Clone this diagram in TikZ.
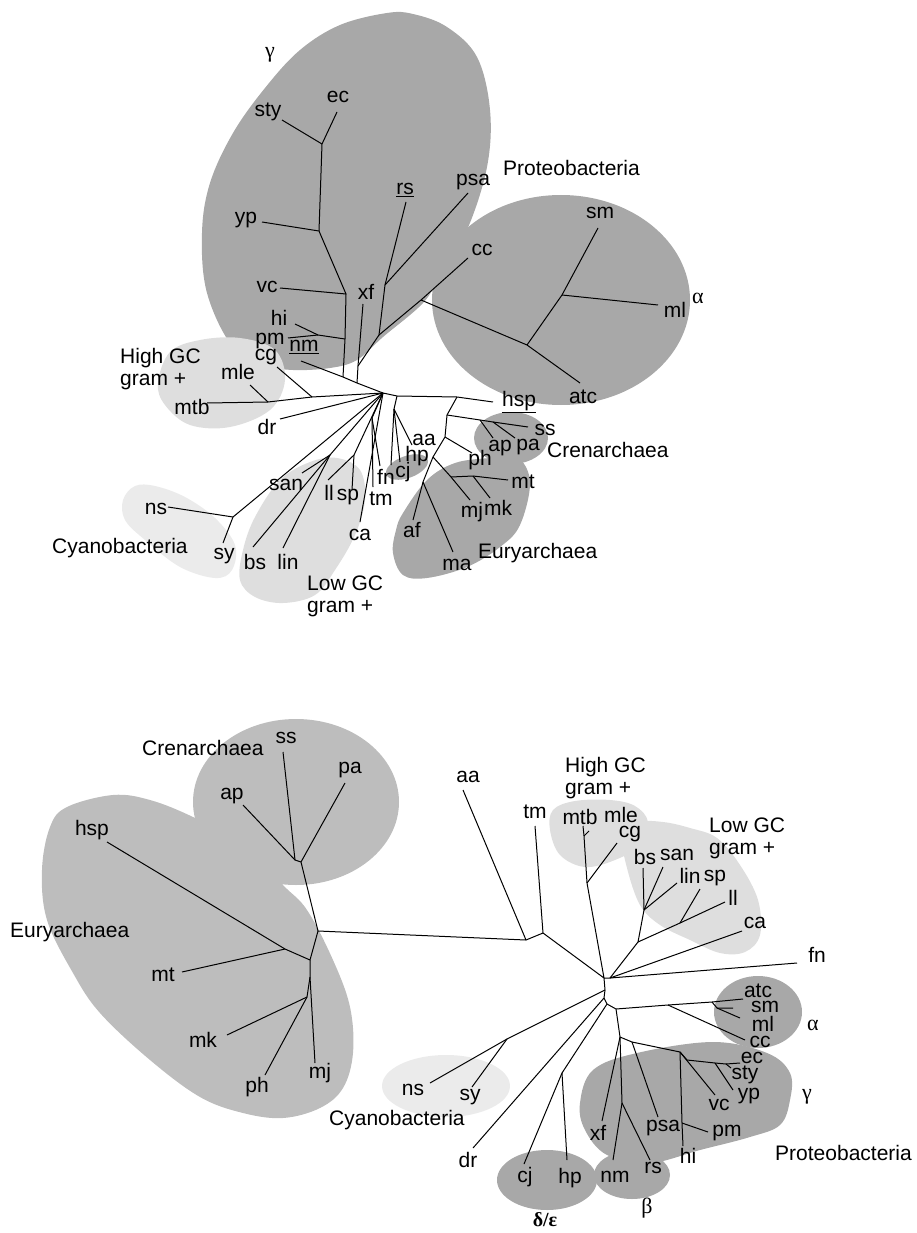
\documentclass[tikz,border=0pt]{standalone}
\usepackage{fontspec}
\setmainfont{Liberation Sans}
\newfontfamily\greekfont{Liberation Serif}
\definecolor{protgray}{gray}{0.66}
\definecolor{archgray}{gray}{0.74}
\definecolor{gramgray}{gray}{0.87}
\definecolor{cyangray}{gray}{0.92}

\begin{document}
\begin{tikzpicture}[x=1pt,y=-1pt]
      \tikzset{
        branch/.style={line width=1pt, line join=round},
        taxon/.style={inner sep=0pt, font=\fontsize{21}{22}\selectfont},
        clade/.style={taxon, anchor=west, align=left},
        greek/.style={inner sep=0pt, font=\greekfont\fontsize{22}{24}\selectfont},
      }
      \useasboundingbox (0,0) rectangle (917,1233);

      % upper tree: groups
      \fill[protgray] plot[smooth cycle, tension=0.6] coordinates {(387,13) (413,14) (447,27) (477,57) (490,110) (487,167) (467,230) (440,275) (423,303) (383,337) (357,360) (330,368) (293,370) (267,365) (233,347) (207,293) (202,233) (210,183) (233,133) (265,88) (300,50) (340,25)};
      \fill[protgray] (561,300) ellipse [x radius=129, y radius=105];
      \fill[gramgray] plot[smooth cycle, tension=0.6] coordinates {(158,383) (170,352) (200,340) (240,338) (275,350) (285,380) (270,410) (230,427) (190,425) (165,405)};
      \fill[cyangray] plot[smooth cycle, tension=0.6] coordinates {(123,500) (135,486) (155,486) (185,497) (215,518) (235,545) (232,570) (215,578) (180,567) (145,540) (125,520)};
      \fill[gramgray] plot[smooth cycle, tension=0.6] coordinates {(240,580) (243,550) (255,517) (280,480) (310,462) (337,458) (360,470) (365,500) (355,535) (335,570) (315,595) (283,603) (255,597)};
      \fill[protgray] (511,438) ellipse [x radius=37, y radius=26];
      \fill[protgray] plot[smooth cycle, tension=0.6] coordinates {(393,553) (396,530) (403,513) (427,480) (455,463) (490,458) (517,457) (530,482) (520,525) (500,547) (467,567) (427,578) (403,575)};
      \fill[protgray] (407,467) circle [x radius=22, y radius=11, rotate=20];

      % upper tree: branch points
      \coordinate (u0) at (383,393);
      \coordinate (u1) at (357,383);
      \coordinate (u2) at (343,377);
      \coordinate (u3) at (345,339);
      \coordinate (u4) at (346,294);
      \coordinate (u5) at (319,231);
      \coordinate (u6) at (322,144);
      \coordinate (u7) at (318,335);
      \coordinate (u8) at (358,366);
      \coordinate (u9) at (379,335);
      \coordinate (u10) at (385,285);
      \coordinate (u11) at (421,300);
      \coordinate (u12) at (527,345);
      \coordinate (u13) at (562,295);
      \coordinate (u14) at (397,396);
      \coordinate (u15) at (457,397);
      \coordinate (u16) at (394,409);
      \coordinate (u17) at (447,415);
      \coordinate (u18) at (480,420);
      \coordinate (u19) at (493,422);
      \coordinate (u20) at (445,437);
      \coordinate (u21) at (433,457);
      \coordinate (u22) at (423,482);
      \coordinate (u23) at (451,477);
      \coordinate (u24) at (473,476);
      \coordinate (u25) at (312,397);
      \coordinate (u26) at (268,402);
      \coordinate (u27) at (233,517);
      \coordinate (u28) at (330,455);
      \coordinate (u29) at (354,455);
      \coordinate (u30) at (372,418);

      % upper tree: taxa
      \coordinate (ec1) at (337,112);   \node[taxon] (ec1t) at (338,97) {ec};
      \coordinate (sty1) at (282,120);  \node[taxon] (sty1t) at (268,112) {sty};
      \coordinate (yp1) at (262,222);   \node[taxon] (yp1t) at (246,220) {yp};
      \coordinate (vc1) at (280,288);   \node[taxon] (vc1t) at (267,287) {vc};
      \coordinate (hi1) at (295,324);   \node[taxon] (hi1t) at (279,318) {hi};
      \coordinate (pm1) at (288,338);   \node[taxon] (pm1t) at (270,341) {pm};
      \coordinate (nm1) at (301,361);   \node[taxon] (nm1t) at (304,347) {\underline{nm}};
      \coordinate (xf1) at (363,304);   \node[taxon] (xf1t) at (366,292) {xf};
      \coordinate (rs1) at (406,202);   \node[taxon] (rs1t) at (405,190) {\underline{rs}};
      \coordinate (psa1) at (468,193);  \node[taxon] (psa1t) at (473,182) {psa};
      \coordinate (cc1) at (468,258);   \node[taxon] (cc1t) at (482,250) {cc};
      \coordinate (atc1) at (580,383);  \node[taxon] (atc1t) at (583,397) {atc};
      \coordinate (sm1) at (598,228);   \node[taxon] (sm1t) at (600,213) {sm};
      \coordinate (ml1) at (658,305);   \node[taxon] (ml1t) at (675,310) {ml};
      \coordinate (hsp1) at (493,402);  \node[taxon] (hsp1t) at (519,402) {\underline{hsp}};
      \coordinate (aa1) at (412,445);   \node[taxon] (aa1t) at (424,440) {aa};
      \coordinate (cj1) at (391,465);   \node[taxon] (cj1t) at (403,472) {cj};
      \coordinate (hp1) at (400,462);   \node[taxon] (hp1t) at (417,456) {hp};
      \coordinate (ss1) at (528,427);   \node[taxon] (ss1t) at (545,430) {ss};
      \coordinate (ap1) at (493,438);   \node[taxon] (ap1t) at (500,448) {ap};
      \coordinate (pa1) at (515,438);   \node[taxon] (pa1t) at (528,447) {pa};
      \coordinate (ph1) at (472,453);   \node[taxon] (ph1t) at (480,460) {ph};
      \coordinate (af1) at (413,520);   \node[taxon] (af1t) at (412,530) {af};
      \coordinate (ma1) at (453,552);   \node[taxon] (ma1t) at (457,565) {ma};
      \coordinate (mj1) at (470,500);   \node[taxon] (mj1t) at (472,512) {mj};
      \coordinate (mt1) at (508,480);   \node[taxon] (mt1t) at (523,482) {mt};
      \coordinate (mk1) at (490,498);   \node[taxon] (mk1t) at (498,508) {mk};
      \coordinate (mtb1) at (207,403);  \node[taxon] (mtb1t) at (192,407) {mtb};
      \coordinate (cg1) at (277,367);   \node[taxon] (cg1t) at (266,357) {cg};
      \coordinate (mle1) at (250,385);  \node[taxon] (mle1t) at (238,372) {mle};
      \coordinate (dr1) at (280,419);   \node[taxon] (dr1t) at (267,427) {dr};
      \coordinate (ns1) at (168,507);   \node[taxon] (ns1t) at (156,509) {ns};
      \coordinate (sy1) at (223,543);   \node[taxon] (sy1t) at (224,556) {sy};
      \coordinate (san1) at (302,473);  \node[taxon] (san1t) at (286,485) {san};
      \coordinate (bs1) at (253,547);   \node[taxon] (bs1t) at (255,562) {bs};
      \coordinate (lin1) at (283,548);  \node[taxon] (lin1t) at (288,562) {lin};
      \coordinate (ll1) at (328,480);   \node[taxon] (ll1t) at (329,493) {ll};
      \coordinate (sp1) at (352,490);   \node[taxon] (sp1t) at (348,497) {sp};
      \coordinate (ca1) at (360,522);   \node[taxon] (ca1t) at (360,535) {ca};
      \coordinate (tm1) at (373,487);   \node[taxon] (tm1t) at (381,499) {tm};
      \coordinate (fn1) at (380,466);   \node[taxon] (fn1t) at (386,477) {fn};

      \draw[branch] (nm1) -- (u2) -- (u1) -- (u0);
      \draw[branch] (u2) -- (u3) -- (u4) -- (u5) -- (u6) -- (ec1);
      \draw[branch] (u6) -- (sty1);
      \draw[branch] (u5) -- (yp1);
      \draw[branch] (u4) -- (vc1);
      \draw[branch] (u3) -- (u7) -- (hi1);
      \draw[branch] (u7) -- (pm1);
      \draw[branch] (u1) -- (u8) -- (xf1);
      \draw[branch] (u8) -- (u9) -- (u10) -- (rs1);
      \draw[branch] (u10) -- (psa1);
      \draw[branch] (u9) -- (u11) -- (cc1);
      \draw[branch] (u11) -- (u12) -- (atc1);
      \draw[branch] (u12) -- (u13) -- (sm1);
      \draw[branch] (u13) -- (ml1);
      \draw[branch] (u0) -- (u14) -- (u15) -- (hsp1);
      \draw[branch] (u14) -- (u16) -- (aa1);
      \draw[branch] (u16) -- (cj1);
      \draw[branch] (u16) -- (hp1);
      \draw[branch] (u15) -- (u17) -- (u20) -- (u21) -- (u22) -- (af1);
      \draw[branch] (u22) -- (ma1);
      \draw[branch] (u17) -- (u18) -- (u19) -- (ss1);
      \draw[branch] (u18) -- (ap1);
      \draw[branch] (u19) -- (pa1);
      \draw[branch] (u20) -- (ph1);
      \draw[branch] (u21) -- (u23) -- (mj1);
      \draw[branch] (u23) -- (u24) -- (mt1);
      \draw[branch] (u24) -- (mk1);
      \draw[branch] (u0) -- (u25) -- (u26) -- (mtb1);
      \draw[branch] (u25) -- (cg1);
      \draw[branch] (u26) -- (mle1);
      \draw[branch] (u0) -- (dr1);
      \draw[branch] (u0) -- (u27) -- (ns1);
      \draw[branch] (u27) -- (sy1);
      \draw[branch] (u0) -- (u28) -- (san1);
      \draw[branch] (u28) -- (bs1);
      \draw[branch] (u28) -- (lin1);
      \draw[branch] (u0) -- (u29) -- (ll1);
      \draw[branch] (u29) -- (sp1);
      \draw[branch] (u0) -- (ca1);
      \draw[branch] (u0) -- (u30) -- (tm1);
      \draw[branch] (u30) -- (fn1);

      \node[greek] (gamma1) at (270,55) {γ};
      \node[greek] (alpha1) at (698,298) {α};
      \node[clade] (proteo1) at (503,168) {Proteobacteria};
      \node[clade] (cren1) at (547,450) {Crenarchaea};
      \node[clade] (eury1) at (478,553) {Euryarchaea};
      \node[clade] (highgc1) at (120,369) {High GC\\gram +};
      \node[clade] (cyano1) at (52,548) {Cyanobacteria};
      \node[clade] (lowgc1) at (307,596) {Low GC\\gram +};

      % lower tree: groups
      \fill[archgray] plot[smooth cycle, tension=0.6] coordinates {(67,807) (113,795) (150,800) (193,817) (245,845) (283,885) (307,910) (333,960) (350,1007) (353,1053) (343,1088) (320,1108) (283,1118) (243,1113) (200,1097) (150,1060) (100,1013) (73,973) (47,920) (42,870) (50,827)};
      \fill[archgray] (296,802) ellipse [x radius=103, y radius=83];
      \fill[cyangray] (446,1086) ellipse [x radius=64, y radius=31];
      \fill[gramgray] plot[smooth cycle, tension=0.6] coordinates {(550,830) (553,810) (575,801) (610,800) (635,806) (648,822) (640,845) (615,860) (585,867) (560,855)};
      \fill[gramgray] plot[smooth cycle, tension=0.6] coordinates {(627,868) (624,842) (640,823) (663,822) (690,828) (717,838) (740,865) (758,900) (760,935) (745,952) (720,953) (690,940) (660,925) (640,905)};
      \fill[protgray] plot[smooth cycle, tension=0.6] coordinates {(580,1103) (593,1070) (637,1053) (713,1042) (767,1053) (790,1073) (790,1100) (780,1125) (750,1137) (700,1150) (650,1163) (607,1155) (585,1130)};
      \fill[protgray] (758,1012) ellipse [x radius=44, y radius=36];
      \fill[protgray] (632,1175) ellipse [x radius=38, y radius=24];
      \fill[protgray] (547,1180) ellipse [x radius=50, y radius=30];

      % lower tree: branch points
      \coordinate (l0) at (318,931);
      \coordinate (l1) at (301,862);
      \coordinate (l2) at (295,860);
      \coordinate (l3) at (310,960);
      \coordinate (l4) at (285,949);
      \coordinate (l5) at (310,977);
      \coordinate (l6) at (307,997);
      \coordinate (l7) at (526,940);
      \coordinate (l8) at (543,933);
      \coordinate (l9) at (604,978);
      \coordinate (l10) at (587,883);
      \coordinate (l11) at (584,836);
      \coordinate (l12) at (610,978);
      \coordinate (l13) at (638,942);
      \coordinate (l14) at (644,910);
      \coordinate (l15) at (680,923);
      \coordinate (l16) at (605,990);
      \coordinate (l17) at (507,1039);
      \coordinate (l18) at (604,998);
      \coordinate (l19) at (607,1004);
      \coordinate (l20) at (562,1073);
      \coordinate (l21) at (616,1009);
      \coordinate (l22) at (668,1005);
      \coordinate (l23) at (712,1002);
      \coordinate (l24) at (717,1008);
      \coordinate (l25) at (620,1037);
      \coordinate (l26) at (622,1103);
      \coordinate (l27) at (632,1042);
      \coordinate (l28) at (680,1052);
      \coordinate (l29) at (687,1060);
      \coordinate (l30) at (715,1063);
      \coordinate (l31) at (726,1064);
      \coordinate (l32) at (682,1123);

      % lower tree: taxa
      \coordinate (ss2) at (283,752);   \node[taxon] (ss2t) at (286,738) {ss};
      \coordinate (pa2) at (345,783);   \node[taxon] (pa2t) at (350,770) {pa};
      \coordinate (ap2) at (243,805);   \node[taxon] (ap2t) at (232,796) {ap};
      \coordinate (hsp2) at (107,842);  \node[taxon] (hsp2t) at (92,830) {hsp};
      \coordinate (mt2) at (182,972);   \node[taxon] (mt2t) at (163,975) {mt};
      \coordinate (mj2) at (315,1063);  \node[taxon] (mj2t) at (320,1073) {mj};
      \coordinate (mk2) at (227,1035);  \node[taxon] (mk2t) at (203,1040) {mk};
      \coordinate (ph2) at (265,1075);  \node[taxon] (ph2t) at (257,1087) {ph};
      \coordinate (aa2) at (463,790);   \node[taxon] (aa2t) at (468,777) {aa};
      \coordinate (tm2) at (535,826);   \node[taxon] (tm2t) at (535,812) {tm};
      \coordinate (mtb2) at (583,826);  \node[taxon] (mtb2t) at (580,817) {mtb};
      \coordinate (mle2) at (589,831);  \node[taxon] (mle2t) at (621,815) {mle};
      \coordinate (cg2) at (617,843);   \node[taxon] (cg2t) at (630,834) {cg};
      \coordinate (bs2) at (643,868);   \node[taxon] (bs2t) at (645,857) {bs};
      \coordinate (san2) at (663,867);  \node[taxon] (san2t) at (677,855) {san};
      \coordinate (lin2) at (677,883);  \node[taxon] (lin2t) at (690,876) {lin};
      \coordinate (sp2) at (700,889);   \node[taxon] (sp2t) at (715,878) {sp};
      \coordinate (ll2) at (725,902);   \node[taxon] (ll2t) at (733,898) {ll};
      \coordinate (ca2) at (742,931);   \node[taxon] (ca2t) at (755,923) {ca};
      \coordinate (fn2) at (797,963);   \node[taxon] (fn2t) at (817,955) {fn};
      \coordinate (ns2) at (430,1083);  \node[taxon] (ns2t) at (413,1090) {ns};
      \coordinate (sy2) at (472,1087);  \node[taxon] (sy2t) at (470,1097) {sy};
      \coordinate (dr2) at (473,1148);  \node[taxon] (dr2t) at (468,1160) {dr};
      \coordinate (cj2) at (524,1164);  \node[taxon] (cj2t) at (525,1177) {cj};
      \coordinate (hp2) at (567,1160);  \node[taxon] (hp2t) at (570,1178) {hp};
      \coordinate (atc2) at (743,999);  \node[taxon] (atc2t) at (758,991) {atc};
      \coordinate (sm2) at (733,1008);  \node[taxon] (sm2t) at (765,1007) {sm};
      \coordinate (ml2) at (740,1018);  \node[taxon] (ml2t) at (763,1024) {ml};
      \coordinate (cc2) at (745,1040);  \node[taxon] (cc2t) at (760,1042) {cc};
      \coordinate (xf2) at (602,1121);  \node[taxon] (xf2t) at (598,1133) {xf};
      \coordinate (nm2) at (613,1160);  \node[taxon] (nm2t) at (615,1177) {nm};
      \coordinate (rs2) at (650,1160);  \node[taxon] (rs2t) at (653,1168) {rs};
      \coordinate (psa2) at (658,1117); \node[taxon] (psa2t) at (663,1128) {psa};
      \coordinate (vc2) at (715,1095);  \node[taxon] (vc2t) at (719,1105) {vc};
      \coordinate (ec2) at (740,1063);  \node[taxon] (ec2t) at (752,1058) {ec};
      \coordinate (sty2) at (731,1068); \node[taxon] (sty2t) at (745,1075) {sty};
      \coordinate (yp2) at (733,1090);  \node[taxon] (yp2t) at (749,1096) {yp};
      \coordinate (hi2) at (683,1146);  \node[taxon] (hi2t) at (688,1156) {hi};
      \coordinate (pm2) at (708,1132);  \node[taxon] (pm2t) at (727,1133) {pm};

      \draw[branch] (l0) -- (l1) -- (pa2);
      \draw[branch] (l1) -- (l2) -- (ss2);
      \draw[branch] (l2) -- (ap2);
      \draw[branch] (l0) -- (l3) -- (l4) -- (hsp2);
      \draw[branch] (l4) -- (mt2);
      \draw[branch] (l3) -- (l5) -- (mj2);
      \draw[branch] (l5) -- (l6) -- (mk2);
      \draw[branch] (l6) -- (ph2);
      \draw[branch] (l0) -- (l7) -- (aa2);
      \draw[branch] (l7) -- (l8) -- (tm2);
      \draw[branch] (l8) -- (l9) -- (l10) -- (l11) -- (mtb2);
      \draw[branch] (l11) -- (mle2);
      \draw[branch] (l10) -- (cg2);
      \draw[branch] (l9) -- (l12) -- (l13) -- (l14) -- (bs2);
      \draw[branch] (l14) -- (san2);
      \draw[branch] (l14) -- (lin2);
      \draw[branch] (l13) -- (l15) -- (sp2);
      \draw[branch] (l15) -- (ll2);
      \draw[branch] (l12) -- (ca2);
      \draw[branch] (l12) -- (fn2);
      \draw[branch] (l9) -- (l16) -- (l17) -- (ns2);
      \draw[branch] (l17) -- (sy2);
      \draw[branch] (l16) -- (l18) -- (dr2);
      \draw[branch] (l18) -- (l19) -- (l20) -- (cj2);
      \draw[branch] (l20) -- (hp2);
      \draw[branch] (l19) -- (l21) -- (l22) -- (l23) -- (atc2);
      \draw[branch] (l23) -- (l24) -- (sm2);
      \draw[branch] (l24) -- (ml2);
      \draw[branch] (l22) -- (cc2);
      \draw[branch] (l21) -- (l25) -- (xf2);
      \draw[branch] (l25) -- (l26) -- (nm2);
      \draw[branch] (l26) -- (rs2);
      \draw[branch] (l25) -- (l27) -- (psa2);
      \draw[branch] (l27) -- (l28) -- (vc2);
      \draw[branch] (l28) -- (l29) -- (l30) -- (l31) -- (ec2);
      \draw[branch] (l31) -- (sty2);
      \draw[branch] (l30) -- (yp2);
      \draw[branch] (l28) -- (l32) -- (hi2);
      \draw[branch] (l32) -- (pm2);

      \node[clade] (cren2) at (142,748) {Crenarchaea};
      \node[clade] (eury2) at (10,932) {Euryarchaea};
      \node[clade] (highgc2) at (565,778) {High GC\\gram +};
      \node[clade] (lowgc2) at (709,838) {Low GC\\gram +};
      \node[clade] (cyano2) at (329,1120) {Cyanobacteria};
      \node[clade] (proteo2) at (775,1153) {Proteobacteria};
      \node[greek] (alpha2) at (813,1025) {α};
      \node[greek] (gamma2) at (807,1097) {γ};
      \node[greek] (beta2) at (647,1208) {β};
      \node[greek, font=\greekfont\bfseries\fontsize{20}{22}\selectfont] (delta2) at (545,1220) {δ/ε};
\end{tikzpicture}
\end{document}
